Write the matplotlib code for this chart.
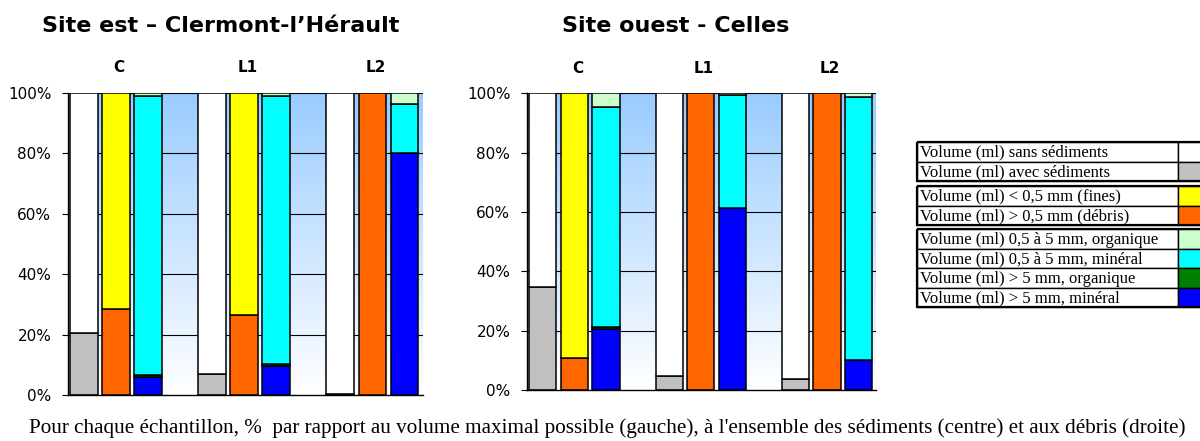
import numpy as np
import matplotlib.pyplot as plt
from matplotlib.patches import Rectangle

# Catégories (11 emplacements : 3 groupes de 3 barres, séparés par un vide)
slots = list(range(11))
bar_slots = [0, 1, 2, 4, 5, 6, 8, 9, 10]
groups = ['C', 'L1', 'L2']

# Séries (%) - Site est, Clermont-l'Hérault
est_avec = [20.5, 0, 0, 7.0, 0, 0, 0.4, 0, 0]
est_sans = [79.5, 0, 0, 93.0, 0, 0, 99.6, 0, 0]
est_fines = [0, 71.5, 0, 0, 73.5, 0, 0, 0, 0]
est_debris = [0, 28.5, 0, 0, 26.5, 0, 0, 100, 0]
est_gros_min = [0, 0, 6.0, 0, 0, 9.5, 0, 0, 80.2]
est_gros_org = [0, 0, 0.6, 0, 0, 0.8, 0, 0, 0]
est_moy_min = [0, 0, 92.2, 0, 0, 88.5, 0, 0, 16.1]
est_moy_org = [0, 0, 1.2, 0, 0, 1.2, 0, 0, 3.7]

# Séries (%) - Site ouest, Celles
ouest_avec = [34.7, 0, 0, 4.8, 0, 0, 3.7, 0, 0]
ouest_sans = [65.3, 0, 0, 95.2, 0, 0, 96.3, 0, 0]
ouest_fines = [0, 89.3, 0, 0, 0, 0, 0, 0, 0]
ouest_debris = [0, 10.7, 0, 0, 100, 0, 0, 100, 0]
ouest_gros_min = [0, 0, 20.4, 0, 0, 61.5, 0, 0, 10.2]
ouest_gros_org = [0, 0, 0.9, 0, 0, 0, 0, 0, 0]
ouest_moy_min = [0, 0, 74.2, 0, 0, 37.9, 0, 0, 88.6]
ouest_moy_org = [0, 0, 4.5, 0, 0, 0.6, 0, 0, 1.2]

labels = ['Volume (ml) avec sédiments', 'Volume (ml) sans sédiments',
          'Volume (ml) > 0,5 mm (débris)', 'Volume (ml) < 0,5 mm (fines)',
          'Volume (ml) > 5 mm, minéral', 'Volume (ml) > 5 mm, organique',
          'Volume (ml) 0,5 à 5 mm, minéral', 'Volume (ml) 0,5 à 5 mm, organique']
colors = ['#C0C0C0', '#FFFFFF', '#FF6600', '#FFFF00',
          '#0000FF', '#008000', '#00FFFF', '#CCFFCC']

est = [est_avec, est_sans, est_debris, est_fines,
       est_gros_min, est_gros_org, est_moy_min, est_moy_org]
ouest = [ouest_avec, ouest_sans, ouest_debris, ouest_fines,
         ouest_gros_min, ouest_gros_org, ouest_moy_min, ouest_moy_org]

fig = plt.figure(figsize=(12, 4.41), dpi=100)

# fond dégradé bleu -> blanc
grad = np.linspace(1, 0, 256).reshape(-1, 1)
top = np.array([0.60, 0.80, 1.0])
img = np.ones((256, 1, 3)) - grad[..., None] * (1 - top)


def draw(ax, series, xlim, title, title_x):
    ax.imshow(img, extent=[xlim[0], xlim[1], 0, 100], aspect='auto', zorder=0)
    ax.set_xlim(*xlim)
    ax.set_ylim(0, 100)
    for y in [20, 40, 60, 80, 100]:
        ax.axhline(y, color='black', lw=0.8, zorder=1)
    bottom = np.zeros(len(bar_slots))
    for vals, c in zip(series, colors):
        vals = np.array(vals)
        mask = vals > 0
        ax.bar(np.array(bar_slots)[mask], vals[mask], width=0.86,
               bottom=bottom[mask], color=c, edgecolor='black', lw=1.1, zorder=2)
        bottom += vals
    ax.set_yticks([0, 20, 40, 60, 80, 100])
    ax.set_yticklabels(['0%', '20%', '40%', '60%', '80%', '100%'])
    ax.tick_params(axis='y', labelsize=11, length=4, width=0.8, pad=8)
    ax.set_xticks([])
    for s in ['top', 'right']:
        ax.spines[s].set_visible(False)
    ax.spines['left'].set_linewidth(1.0)
    ax.spines['bottom'].set_linewidth(1.0)
    for g, x in zip(groups, [1.1, 5.1, 9.1]):
        ax.text(x, 106, g, ha='center', va='bottom', fontsize=11, fontweight='bold')
    fig.text(title_x, 0.94, title, ha='center', va='center', fontsize=16,
             fontweight='bold')


ax1 = fig.add_axes([0.0567, 0.1043, 0.2958, 0.6855])
draw(ax1, est, (-0.49, 10.58), 'Site est \u2013 Clermont-l\u2019Hérault', 0.184)
ax2 = fig.add_axes([0.4392, 0.1156, 0.2908, 0.6728])
draw(ax2, ouest, (-0.5, 10.55), 'Site ouest - Celles', 0.563)

# légende sous forme de tableau
lg = fig.add_axes([0, 0, 1, 1], facecolor='none')
lg.set_xlim(0, 1200)
lg.set_ylim(441, 0)
lg.axis('off')
order = [1, 0, 3, 2, 7, 6, 5, 4]
row_h = 19.5
starts = [142, 186, 229]
sizes = [2, 2, 4]
k = 0
for y0, n in zip(starts, sizes):
    for r in range(n):
        i = order[k]
        y = y0 + r * row_h
        lg.add_patch(Rectangle((917, y), 261, row_h, fc='white', ec='black', lw=1.0))
        lg.add_patch(Rectangle((1178, y), 30, row_h, fc=colors[i], ec='black', lw=1.0))
        lg.text(920, y + row_h / 2 + 1, labels[i], ha='left', va='center',
                fontsize=12, family='Liberation Serif')
        k += 1
    lg.add_patch(Rectangle((917, y0), 291, n * row_h, fc='none', ec='black', lw=1.6))

fig.text(0.506, 0.03, "Pour chaque échantillon, %  par rapport au volume maximal possible "
         "(gauche), à l'ensemble des sédiments (centre) et aux débris (droite)",
         ha='center', va='center', fontsize=15.2, family='Liberation Serif')

fig.savefig('out.png', dpi=100)
